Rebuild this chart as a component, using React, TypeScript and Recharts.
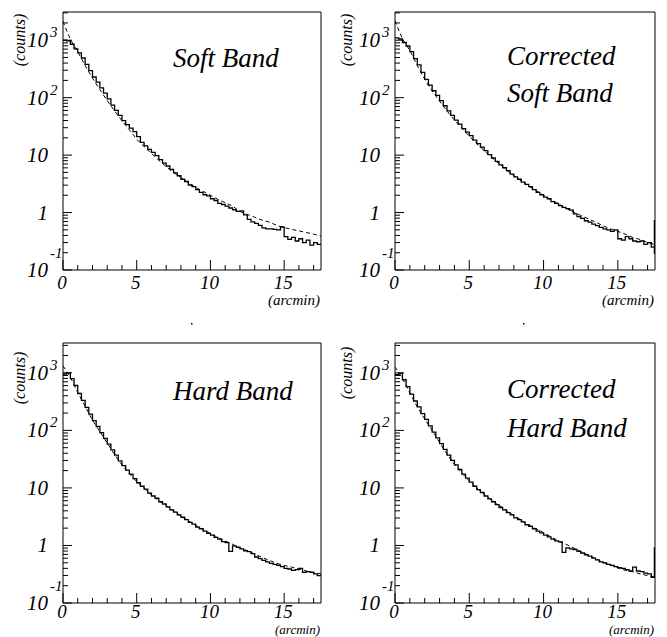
import { LineChart, Line, XAxis, YAxis } from 'recharts';

// radial profiles, counts per 0.25' bin, and model curves sampled every 0.5'
const BIN_WIDTH = 0.25;
const MODEL_STEP = 0.5;

const softHist = [
  1000, 977, 851, 708, 603, 490, 380, 295, 229, 186, 148, 120,
  95.5, 74.1, 60.3, 49.0, 39.8, 33.9, 29.5, 25.7, 21.0, 16.6, 14.5, 12.6,
  11.2, 9.77, 8.32, 7.24, 6.46, 5.62, 4.9, 4.37, 3.8, 3.47, 3.02, 2.82,
  2.51, 2.24, 2.04, 1.95, 1.74, 1.62, 1.45, 1.38, 1.29, 1.2, 1.12, 1.05,
  1.07, 0.91, 0.76, 0.69, 0.65, 0.6, 0.54, 0.52, 0.52, 0.51, 0.5, 0.56,
  0.38, 0.34, 0.37, 0.32, 0.35, 0.3, 0.33, 0.27, 0.3, 0.28,
];
const softModel = [
  2140, 1050, 631, 363, 219, 138, 89.1, 58.9, 39.8, 27.5, 19.1, 14.1,
  10.7, 8.13, 6.31, 5.01, 4.07, 3.31, 2.75, 2.34, 2.0, 1.7, 1.48, 1.29,
  1.05, 0.93, 0.83, 0.74, 0.68, 0.6, 0.55, 0.51, 0.48, 0.45, 0.42, 0.39,
];

const softCorrHist = [
  1100, 1050, 912, 794, 631, 479, 372, 275, 209, 166, 132, 110,
  89.1, 72.4, 58.9, 49.0, 40.7, 34.7, 28.8, 25.1, 21.9, 18.2, 15.8, 13.8,
  12.0, 10.2, 8.91, 7.76, 6.76, 6.03, 5.37, 4.68, 4.17, 3.8, 3.39, 3.09,
  2.82, 2.51, 2.24, 2.04, 1.86, 1.74, 1.55, 1.45, 1.32, 1.23, 1.17, 1.1,
  0.95, 0.85, 0.79, 0.72, 0.68, 0.63, 0.59, 0.55, 0.52, 0.5, 0.47, 0.5,
  0.35, 0.33, 0.38, 0.35, 0.32, 0.31, 0.32, 0.28, 0.3, 0.25,
];
const softCorrModel = [
  2190, 1070, 661, 363, 209, 132, 87.1, 58.9, 40.7, 29.5, 21.4, 15.8,
  12.0, 9.12, 7.08, 5.5, 4.37, 3.55, 2.88, 2.4, 2.0, 1.66, 1.41, 1.2,
  1.02, 0.89, 0.78, 0.68, 0.59, 0.52, 0.47, 0.42, 0.37, 0.34, 0.3, 0.28,
];
// error bar on the last bin, drawn at the right edge
const softCorrEdge = [0.19, 0.74];

const hardHist = [
  955, 1000, 794, 603, 437, 331, 251, 191, 148, 117, 91.2, 72.4,
  57.5, 45.7, 37.2, 29.5, 24.5, 20.4, 17.4, 14.5, 12.3, 10.7, 9.55, 8.13,
  7.24, 6.61, 5.75, 5.25, 4.68, 4.17, 3.8, 3.39, 3.09, 2.82, 2.51, 2.34,
  2.09, 1.95, 1.78, 1.62, 1.51, 1.38, 1.29, 1.17, 1.12, 0.79, 0.98, 0.93,
  0.87, 0.81, 0.78, 0.72, 0.63, 0.59, 0.55, 0.52, 0.49, 0.47, 0.45, 0.43,
  0.4, 0.39, 0.37, 0.38, 0.4, 0.34, 0.35, 0.34, 0.32, 0.3,
];
const hardModel = [
  1320, 832, 457, 263, 151, 95.5, 60.3, 38.0, 25.1, 17.8, 12.9, 9.77,
  7.59, 6.03, 4.9, 3.98, 3.24, 2.69, 2.24, 1.91, 1.62, 1.38, 1.2, 1.05,
  0.91, 0.81, 0.71, 0.62, 0.55, 0.49, 0.45, 0.42, 0.39, 0.36, 0.34, 0.32,
];

const hardCorrHist = [
  933, 977, 759, 575, 427, 324, 257, 195, 155, 120, 93.3, 74.1,
  58.9, 46.8, 37.2, 30.2, 25.1, 20.9, 17.4, 14.8, 12.6, 10.7, 9.33, 8.32,
  7.24, 6.46, 5.75, 5.13, 4.57, 4.17, 3.72, 3.39, 3.02, 2.82, 2.57, 2.29,
  2.14, 1.95, 1.78, 1.66, 1.51, 1.41, 1.29, 1.2, 1.15, 0.76, 0.91, 0.87,
  0.85, 0.79, 0.74, 0.69, 0.65, 0.6, 0.56, 0.52, 0.5, 0.47, 0.45, 0.43,
  0.41, 0.4, 0.38, 0.36, 0.42, 0.36, 0.35, 0.33, 0.32, 0.28,
];
const hardCorrModel = [
  1260, 794, 447, 257, 158, 100, 61.7, 38.9, 25.7, 18.2, 13.2, 10.0,
  7.76, 6.17, 5.01, 4.07, 3.31, 2.75, 2.29, 1.95, 1.66, 1.41, 1.2, 1.05,
  0.91, 0.79, 0.68, 0.59, 0.51, 0.46, 0.41, 0.37, 0.35, 0.32, 0.3, 0.28,
];
const hardCorrEdge = [0.28, 0.93];

const X_MAX = 17.5;
const xTicks = [0, 1, 2, 3, 4, 5, 6, 7, 8, 9, 10, 11, 12, 13, 14, 15, 16, 17];
const xMajorTicks = [0, 5, 10, 15];
const yTicks = [
  0.1, 0.2, 0.3, 0.4, 0.5, 0.6, 0.7, 0.8, 0.9,
  1, 2, 3, 4, 5, 6, 7, 8, 9,
  10, 20, 30, 40, 50, 60, 70, 80, 90,
  100, 200, 300, 400, 500, 600, 700, 800, 900,
  1000, 2000, 3000,
];
const yLabels = [
  { value: 1000, base: '10', exp: '3' },
  { value: 100, base: '10', exp: '2' },
  { value: 10, base: '10', exp: '' },
  { value: 1, base: '1', exp: '' },
  { value: 0.1, base: '10', exp: '-1' },
];

const FONT = '"Liberation Serif", "Times New Roman", serif';

function XTick(props: any) {
  const { x, y, payload, labelOffset } = props;
  const major = xMajorTicks.includes(payload.value);
  return (
    <g>
      <line x1={x} x2={x} y1={y} y2={y - (major ? 10 : 5)} stroke="#000" />
      {major && (
        <text x={x - 1} y={y + labelOffset} textAnchor="middle" fontSize={19} fontStyle="italic" fontFamily={FONT} fill="#000">
          {payload.value}
        </text>
      )}
    </g>
  );
}

function YTick(props: any) {
  const { x, y, payload } = props;
  const label = yLabels.find((l) => Math.abs(l.value - payload.value) < 1e-9);
  return (
    <g>
      <line x1={x} x2={x + (label ? 9 : 5)} y1={y} y2={y} stroke="#000" />
      {label && (
        <text x={x - 15} y={y + 7} textAnchor="end" fontSize={21} fontStyle="italic" fontFamily={FONT} fill="#000">
          {label.base}
        </text>
      )}
      {label && label.exp && (
        <text
          x={x - 13}
          y={label.exp === '-1' ? y - 12 : y - 3}
          textAnchor="start"
          fontSize={15}
          fontStyle="italic"
          fontFamily={FONT}
          fill="#000"
        >
          {label.exp}
        </text>
      )}
    </g>
  );
}

interface PanelProps {
  left: number;
  top: number;
  width: number;
  height: number;
  margin: { top: number; right: number; bottom: number; left: number };
  yMax: number;
  hist: number[];
  model: number[];
  edge?: number[];
  labelOffset: number;
}

function Panel({ left, top, width, height, margin, yMax, hist, model, edge, labelOffset }: PanelProps) {
  const histData = hist.map((v, i) => ({ x: i * BIN_WIDTH, y: v }));
  histData.push({ x: hist.length * BIN_WIDTH, y: hist[hist.length - 1] });
  const modelData = model.map((v, i) => ({ x: i * MODEL_STEP, y: v }));
  const edgeData = edge ? edge.map((v) => ({ x: X_MAX, y: v })) : [];

  return (
    <div style={{ position: 'absolute', left, top }}>
      <LineChart width={width} height={height} margin={margin} style={{ overflow: 'visible' }}>
        <XAxis
          xAxisId="main"
          type="number"
          dataKey="x"
          domain={[0, X_MAX]}
          allowDataOverflow
          ticks={xTicks}
          interval={0}
          height={1}
          tickSize={0}
          tickMargin={0}
          tickLine={false}
          axisLine={{ stroke: '#000' }}
          tick={(p: any) => <XTick {...p} labelOffset={labelOffset} />}
        />
        <XAxis
          xAxisId="frame"
          orientation="top"
          type="number"
          domain={[0, X_MAX]}
          height={1}
          tick={false}
          tickLine={false}
          axisLine={{ stroke: '#000' }}
        />
        <YAxis
          yAxisId="main"
          type="number"
          scale="log"
          domain={[0.1, yMax]}
          allowDataOverflow
          ticks={yTicks}
          interval={0}
          width={1}
          tickSize={0}
          tickMargin={0}
          tickLine={false}
          axisLine={{ stroke: '#000' }}
          tick={YTick}
        />
        <YAxis
          yAxisId="frame"
          orientation="right"
          type="number"
          domain={[0, 1]}
          width={1}
          tick={false}
          tickLine={false}
          axisLine={{ stroke: '#000' }}
        />
        <Line
          xAxisId="main"
          yAxisId="main"
          data={modelData}
          dataKey="y"
          type="monotone"
          stroke="#000"
          strokeWidth={1}
          strokeDasharray="4 3"
          dot={false}
          activeDot={false}
          isAnimationActive={false}
        />
        <Line
          xAxisId="main"
          yAxisId="main"
          data={histData}
          dataKey="y"
          type="stepAfter"
          stroke="#000"
          strokeWidth={1.3}
          dot={false}
          activeDot={false}
          isAnimationActive={false}
        />
        {edge && (
          <Line
            xAxisId="main"
            yAxisId="main"
            data={edgeData}
            dataKey="y"
            type="linear"
            stroke="#000"
            strokeWidth={2.5}
            dot={false}
            activeDot={false}
            isAnimationActive={false}
          />
        )}
      </LineChart>
    </div>
  );
}

const textStyle = { fontFamily: FONT, fontStyle: 'italic', fill: '#000' } as const;

export default function App() {
  // plot areas: top row x 63-321 / 395-655, y 12-270; bottom row y 343-603
  const topMargin = { top: 11, right: 11, bottom: 39, left: 62 };
  const bottomMargin = { top: 30, right: 11, bottom: 33, left: 62 };
  return (
    <div style={{ position: 'absolute', left: 0, top: 0, width: 667, height: 637, background: '#fff', overflow: 'hidden' }}>
      <Panel left={0} top={0} width={333} height={310} margin={topMargin} yMax={3100} hist={softHist} model={softModel} labelOffset={19} />
      <Panel left={332} top={0} width={335} height={310} margin={topMargin} yMax={3100} hist={softCorrHist} model={softCorrModel} edge={softCorrEdge} labelOffset={19} />
      <Panel left={0} top={312} width={333} height={325} margin={bottomMargin} yMax={3300} hist={hardHist} model={hardModel} labelOffset={15} />
      <Panel left={332} top={312} width={335} height={325} margin={bottomMargin} yMax={3300} hist={hardCorrHist} model={hardCorrModel} edge={hardCorrEdge} labelOffset={15} />

      <svg width={667} height={637} style={{ position: 'absolute', left: 0, top: 0, pointerEvents: 'none' }}>
        <text x={173} y={67} fontSize={27} {...textStyle}>Soft Band</text>
        <text x={507} y={65} fontSize={27} {...textStyle}>Corrected</text>
        <text x={507} y={102} fontSize={27} {...textStyle}>Soft Band</text>
        <text x={173} y={400} fontSize={27} {...textStyle}>Hard Band</text>
        <text x={507} y={398} fontSize={27} {...textStyle}>Corrected</text>
        <text x={507} y={437} fontSize={27} {...textStyle}>Hard Band</text>

        <text x={320} y={305} fontSize={15} textAnchor="end" {...textStyle}>(arcmin)</text>
        <text x={654} y={305} fontSize={15} textAnchor="end" {...textStyle}>(arcmin)</text>
        <text x={320} y={633.5} fontSize={13} textAnchor="end" {...textStyle}>(arcmin)</text>
        <text x={654} y={633.5} fontSize={13} textAnchor="end" {...textStyle}>(arcmin)</text>

        <text x={25} y={40} fontSize={16} textAnchor="middle" transform="rotate(-90 25 40)" {...textStyle}>(counts)</text>
        <text x={352} y={40} fontSize={16} textAnchor="middle" transform="rotate(-90 352 40)" {...textStyle}>(counts)</text>
        <text x={25} y={378} fontSize={16} textAnchor="middle" transform="rotate(-90 25 378)" {...textStyle}>(counts)</text>
        <text x={352} y={373} fontSize={16} textAnchor="middle" transform="rotate(-90 352 373)" {...textStyle}>(counts)</text>

        <rect x={191} y={323} width={1.5} height={1.5} fill="#000" />
        <rect x={523} y={323} width={1.5} height={1.5} fill="#000" />
      </svg>
    </div>
  );
}
